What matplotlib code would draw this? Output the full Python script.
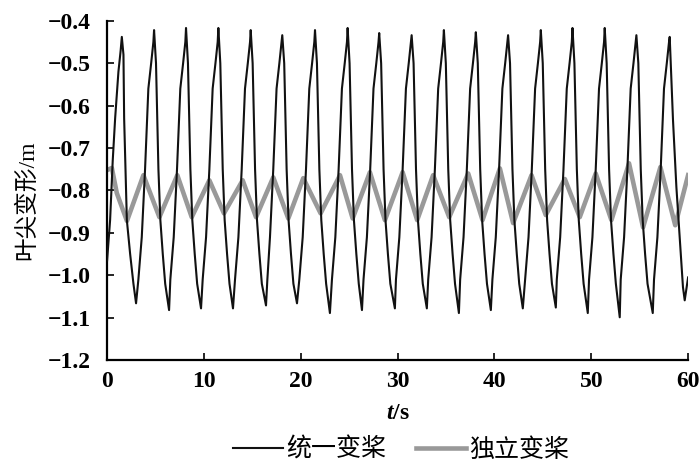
import matplotlib
matplotlib.use("Agg")
import matplotlib.pyplot as plt

plt.rcParams['font.family'] = ['Liberation Serif', 'Noto Sans CJK SC', 'DejaVu Sans']
plt.rcParams['mathtext.fontset'] = 'custom'
plt.rcParams['mathtext.it'] = 'Liberation Serif:italic:bold'
plt.rcParams['mathtext.rm'] = 'Liberation Serif:bold'
plt.rcParams['axes.unicode_minus'] = True

# ---- data ----
black_t = [0.00, 0.31, 0.58, 0.83, 1.17, 1.40, 1.52, 1.69, 1.76, 2.04, 2.38, 2.72, 2.99,
           3.23, 3.58, 3.92, 4.26, 4.55, 4.78, 4.85, 5.05, 5.30, 5.50, 5.75, 6.00, 6.40,
           6.53, 6.88, 7.22, 7.56, 7.85, 8.08, 8.15, 8.35, 8.60, 8.80, 9.05, 9.30, 9.70,
           9.87, 10.22, 10.56, 10.90, 11.19, 11.42, 11.49, 11.69, 11.94, 12.14, 12.39, 12.64, 13.00,
           13.21, 13.56, 13.90, 14.24, 14.53, 14.76, 14.83, 15.03, 15.28, 15.48, 15.73, 15.98, 16.41,
           16.55, 16.82, 17.16, 17.50, 17.79, 18.02, 18.09, 18.29, 18.54, 18.74, 18.99, 19.24, 19.61,
           19.85, 20.20, 20.54, 20.88, 21.17, 21.40, 21.47, 21.67, 21.92, 22.12, 22.37, 22.62, 23.01,
           23.22, 23.57, 23.91, 24.25, 24.54, 24.77, 24.84, 25.04, 25.29, 25.49, 25.74, 25.99, 26.32,
           26.48, 26.83, 27.17, 27.51, 27.80, 28.03, 28.10, 28.30, 28.55, 28.75, 29.00, 29.25, 29.72,
           29.83, 30.18, 30.52, 30.86, 31.15, 31.38, 31.45, 31.65, 31.90, 32.10, 32.35, 32.60, 33.02,
           33.16, 33.51, 33.85, 34.19, 34.48, 34.71, 34.78, 34.98, 35.23, 35.43, 35.68, 35.93, 36.33,
           36.46, 36.81, 37.15, 37.49, 37.78, 38.01, 38.08, 38.28, 38.53, 38.73, 38.98, 39.23, 39.63,
           39.79, 40.14, 40.48, 40.82, 41.11, 41.34, 41.41, 41.61, 41.86, 42.06, 42.31, 42.56, 42.93,
           43.17, 43.52, 43.86, 44.20, 44.49, 44.72, 44.79, 44.99, 45.24, 45.44, 45.69, 45.94, 46.34,
           46.44, 46.79, 47.13, 47.47, 47.76, 47.99, 48.06, 48.26, 48.51, 48.71, 48.96, 49.21, 49.64,
           49.77, 50.12, 50.46, 50.80, 51.09, 51.32, 51.39, 51.59, 51.84, 52.04, 52.29, 52.54, 52.94,
           53.04, 53.39, 53.73, 54.07, 54.36, 54.59, 54.66, 54.86, 55.11, 55.31, 55.56, 55.81, 56.35,
           56.48, 56.83, 57.17, 57.51, 57.80, 58.03, 58.10, 58.44, 58.79, 59.13, 59.47, 59.65, 60.00]
black_v = [-0.965, -0.87, -0.73, -0.63, -0.52, -0.47, -0.438, -0.48, -0.63, -0.87, -0.95, -1.02, -1.066,
           -1.01, -0.91, -0.75, -0.56, -0.50, -0.45, -0.422, -0.50, -0.75, -0.87, -0.95, -1.02, -1.082,
           -1.01, -0.91, -0.75, -0.56, -0.50, -0.45, -0.417, -0.50, -0.75, -0.87, -0.95, -1.02, -1.078,
           -1.01, -0.91, -0.75, -0.56, -0.50, -0.45, -0.417, -0.50, -0.75, -0.87, -0.95, -1.02, -1.078,
           -1.01, -0.91, -0.75, -0.56, -0.50, -0.45, -0.422, -0.50, -0.75, -0.87, -0.95, -1.02, -1.071,
           -1.01, -0.91, -0.75, -0.56, -0.50, -0.45, -0.434, -0.50, -0.75, -0.87, -0.95, -1.02, -1.066,
           -1.01, -0.91, -0.75, -0.56, -0.50, -0.45, -0.422, -0.50, -0.75, -0.87, -0.95, -1.02, -1.089,
           -1.01, -0.91, -0.75, -0.56, -0.50, -0.45, -0.417, -0.50, -0.75, -0.87, -0.95, -1.02, -1.082,
           -1.01, -0.91, -0.75, -0.56, -0.50, -0.45, -0.429, -0.50, -0.75, -0.87, -0.95, -1.02, -1.078,
           -1.01, -0.91, -0.75, -0.56, -0.50, -0.45, -0.434, -0.50, -0.75, -0.87, -0.95, -1.02, -1.078,
           -1.01, -0.91, -0.75, -0.56, -0.50, -0.45, -0.422, -0.50, -0.75, -0.87, -0.95, -1.02, -1.089,
           -1.01, -0.91, -0.75, -0.56, -0.50, -0.45, -0.427, -0.50, -0.75, -0.87, -0.95, -1.02, -1.082,
           -1.01, -0.91, -0.75, -0.56, -0.50, -0.45, -0.434, -0.50, -0.75, -0.87, -0.95, -1.02, -1.078,
           -1.01, -0.91, -0.75, -0.56, -0.50, -0.45, -0.422, -0.50, -0.75, -0.87, -0.95, -1.02, -1.076,
           -1.01, -0.91, -0.75, -0.56, -0.50, -0.45, -0.417, -0.50, -0.75, -0.87, -0.95, -1.02, -1.089,
           -1.01, -0.91, -0.75, -0.56, -0.50, -0.45, -0.417, -0.50, -0.75, -0.87, -0.95, -1.02, -1.099,
           -1.01, -0.91, -0.75, -0.56, -0.50, -0.45, -0.434, -0.50, -0.75, -0.87, -0.95, -1.02, -1.089,
           -1.01, -0.91, -0.75, -0.56, -0.50, -0.45, -0.438, -0.634, -0.792, -0.91, -1.028, -1.059, -1.005]

gray_t = [0.00, 0.49, 1.00, 2.05, 3.75, 5.40, 7.25, 8.74, 10.56, 12.07, 14.00, 15.38,
          17.16, 18.71, 20.26, 22.05, 24.05, 25.36, 27.14, 28.69, 30.52, 32.02, 33.67, 35.33,
          37.29, 38.77, 40.56, 41.93, 43.83, 45.30, 47.27, 48.81, 50.46, 52.08, 53.90, 55.35,
          57.14, 58.67, 60.00]
gray_v = [-0.752, -0.747, -0.806, -0.872, -0.764, -0.863, -0.764, -0.863, -0.776, -0.854, -0.776, -0.863,
          -0.769, -0.866, -0.771, -0.854, -0.764, -0.866, -0.757, -0.870, -0.757, -0.870, -0.764, -0.863,
          -0.760, -0.870, -0.748, -0.877, -0.764, -0.858, -0.773, -0.863, -0.760, -0.870, -0.736, -0.887,
          -0.745, -0.882, -0.764]

series_labels = ['统一变桨', '独立变桨']
x_ticks = [0, 10, 20, 30, 40, 50, 60]
y_ticks = [-0.4, -0.5, -0.6, -0.7, -0.8, -0.9, -1.0, -1.1, -1.2]
y_ticklabels = ['\u22120.4', '\u22120.5', '\u22120.6', '\u22120.7', '\u22120.8',
                '\u22120.9', '\u22121.0', '\u22121.1', '\u22121.2']

fig = plt.figure(figsize=(7.0, 4.72), dpi=100)
ax = fig.add_axes([0.153, 0.237, 0.830, 0.719])

ax.plot(black_t, black_v, color='#111111', lw=1.5, label=series_labels[0], zorder=3)
ax.plot(gray_t, gray_v, color='#999999', lw=3.3, label=series_labels[1], zorder=2,
        solid_joinstyle='round')

ax.set_xlim(0, 60)
ax.set_ylim(-1.2, -0.4)
ax.set_xticks(x_ticks)
ax.set_xticklabels([str(v) for v in x_ticks])
ax.set_yticks(y_ticks)
ax.set_yticklabels(y_ticklabels)

for s in ['top', 'right']:
    ax.spines[s].set_visible(False)
for s in ['left', 'bottom']:
    ax.spines[s].set_linewidth(1.6)
ax.tick_params(direction='in', length=5, width=1.2, labelsize=17)
ax.tick_params(axis='x', pad=8)
ax.tick_params(axis='y', pad=12)
for lab in ax.get_xticklabels() + ax.get_yticklabels():
    lab.set_fontweight('bold')

ax.set_xlabel('$t$/s', fontsize=17, fontweight='bold', labelpad=8)
ax.set_ylabel('叶尖变形/m', fontsize=17)
ax.yaxis.set_label_coords(-0.118, 0.47)

leg = fig.legend(loc='center', bbox_to_anchor=(0.573, 0.047), ncol=2, frameon=False,
                 fontsize=18, handlelength=2.0, handletextpad=0.12, columnspacing=1.2)

fig.savefig('out.png', dpi=100)
